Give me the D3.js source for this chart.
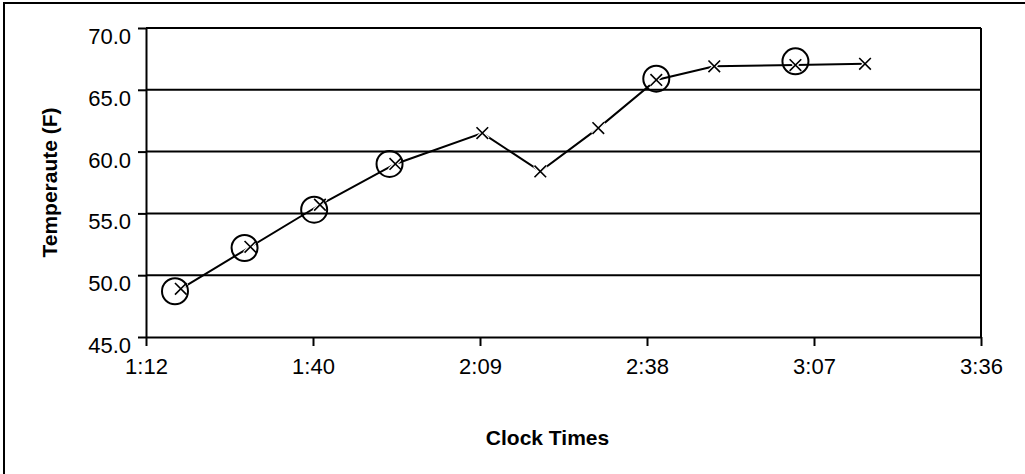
<!DOCTYPE html>
<html>
<head>
<meta charset="utf-8">
<script src="https://cdn.jsdelivr.net/npm/d3@7"></script>
<style>
  html, body { margin: 0; padding: 0; background: #fff; overflow: hidden; }
  svg { display: block; }
  text { font-family: "Liberation Sans", Arial, sans-serif; fill: #000; }
</style>
</head>
<body>
<script>
// Readings along the run: clock time and temperature (F)
const readingTimes = ["1:18", "1:30", "1:42", "1:55", "2:10", "2:20", "2:30", "2:40", "2:50", "3:04", "3:16"];
const readingTemps = [48.9, 52.3, 55.7, 59.0, 61.5, 58.4, 61.9, 65.8, 66.9, 67.0, 67.1];

// Spot checks, marked with open circles (no connecting line)
const checkTimes = ["1:17", "1:29", "1:41", "1:54", "2:40", "3:04"];
const checkTemps = [48.7, 52.2, 55.3, 59.0, 65.9, 67.3];

// Axis ticks: x in fractions of a day, y in degrees
const xTickDays = [0.05, 0.07, 0.09, 0.11, 0.13, 0.15];
const yTicks = [45, 50, 55, 60, 65, 70];

const W = 1025, H = 474;
const plot = { left: 146, right: 981, top: 28, bottom: 337 };
const FONT = "Liberation Sans, Arial, sans-serif";

const toMinutes = s => { const [h, m] = s.split(":").map(Number); return h * 60 + m; };
const fmtClock = day => {
  const total = Math.floor(day * 24 * 60 + 1e-6);
  const h = Math.floor(total / 60), m = total % 60;
  return h + ":" + String(m).padStart(2, "0");
};

const svg = d3.select("body").append("svg").attr("width", W).attr("height", H);

// Chart area frame
svg.append("rect")
  .attr("x", 4).attr("y", 3).attr("width", W + 40).attr("height", H + 40)
  .attr("fill", "#fff").attr("stroke", "#000").attr("stroke-width", 2);

const x = d3.scaleLinear()
  .domain([xTickDays[0] * 1440, xTickDays[xTickDays.length - 1] * 1440])
  .range([plot.left, plot.right]);
const y = d3.scaleLinear().domain([45, 70]).range([plot.bottom, plot.top]);

// Horizontal gridlines
svg.append("g").selectAll("line").data(yTicks.slice(1)).join("line")
  .attr("x1", plot.left).attr("x2", plot.right)
  .attr("y1", d => y(d)).attr("y2", d => y(d))
  .attr("stroke", "#000").attr("stroke-width", 2);

// Plot area right edge
svg.append("line")
  .attr("x1", plot.right).attr("x2", plot.right)
  .attr("y1", plot.top).attr("y2", plot.bottom)
  .attr("stroke", "#000").attr("stroke-width", 2);

// X axis
const xAxis = d3.axisBottom(x)
  .tickValues(xTickDays.map(d => d * 1440))
  .tickFormat(m => fmtClock(m / 1440))
  .tickSize(9).tickSizeOuter(0).tickPadding(12);
const gx = svg.append("g").attr("transform", `translate(0,${plot.bottom})`).call(xAxis);
gx.attr("font-family", FONT).attr("font-size", 22);
gx.select(".domain").attr("stroke", "#000").attr("stroke-width", 2);
gx.selectAll(".tick line").attr("stroke", "#000").attr("stroke-width", 2);
gx.selectAll(".tick text").attr("font-size", 22);

// Y axis
const yAxis = d3.axisLeft(y)
  .tickValues(yTicks)
  .tickFormat(d3.format(".1f"))
  .tickSize(8).tickSizeOuter(0).tickPadding(7);
const gy = svg.append("g").attr("transform", `translate(${plot.left},0)`).call(yAxis);
gy.attr("font-family", FONT).attr("font-size", 22);
gy.select(".domain").attr("stroke", "#000").attr("stroke-width", 2);
gy.selectAll(".tick line").attr("stroke", "#000").attr("stroke-width", 2);
gy.selectAll(".tick text").attr("font-size", 22).attr("dy", "0.7em");

// Axis titles
svg.append("text")
  .attr("x", (plot.left + plot.right) / 2 - 16).attr("y", 445)
  .attr("text-anchor", "middle").attr("font-size", 21).attr("font-weight", "bold")
  .text("Clock Times");
svg.append("text")
  .attr("transform", `translate(57,${(plot.top + plot.bottom) / 2}) rotate(-90)`)
  .attr("text-anchor", "middle").attr("font-size", 21).attr("font-weight", "bold")
  .text("Temperaute (F)");

// Readings line
const readings = readingTimes.map((t, i) => ({ m: toMinutes(t), v: readingTemps[i] }));
const checks = checkTimes.map((t, i) => ({ m: toMinutes(t), v: checkTemps[i] }));

svg.append("path").datum(readings)
  .attr("fill", "none").attr("stroke", "#000").attr("stroke-width", 2)
  .attr("d", d3.line().x(d => x(d.m)).y(d => y(d.v)));

// X markers (white halo keeps a small gap in the line)
const cross = d3.symbol().type(d3.symbolX).size(90);
const gm = svg.append("g");
gm.selectAll("path.halo").data(readings).join("path").attr("class", "halo")
  .attr("transform", d => `translate(${x(d.m)},${y(d.v)})`)
  .attr("d", cross).attr("fill", "none").attr("stroke", "#fff").attr("stroke-width", 4);
gm.selectAll("path.mark").data(readings).join("path").attr("class", "mark")
  .attr("transform", d => `translate(${x(d.m)},${y(d.v)})`)
  .attr("d", cross).attr("fill", "none").attr("stroke", "#000").attr("stroke-width", 1.6);

// Circle markers
svg.append("g").selectAll("circle").data(checks).join("circle")
  .attr("cx", d => x(d.m)).attr("cy", d => y(d.v)).attr("r", 13)
  .attr("fill", "none").attr("stroke", "#000").attr("stroke-width", 2);
</script>
</body>
</html>
